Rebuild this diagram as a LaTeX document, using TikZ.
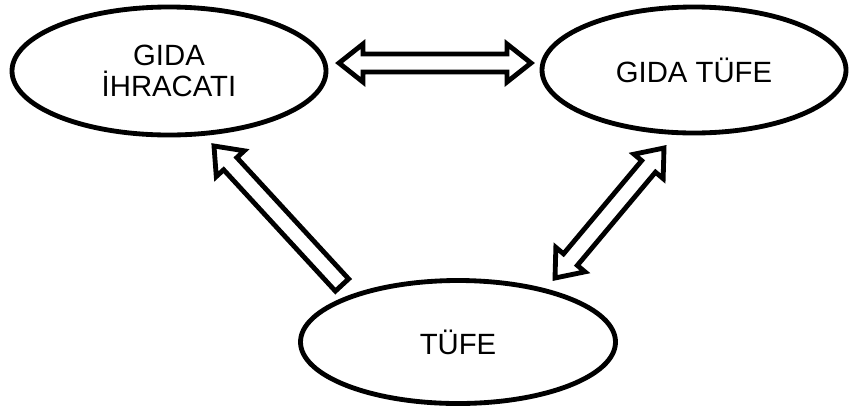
\documentclass[tikz,border=0pt]{standalone}
\usepackage{fontspec}
\setmainfont{Liberation Sans}
\usepackage{tikz}
\usetikzlibrary{shapes.geometric}
\usetikzlibrary{calc}
\tikzset{
  box/.style={draw, ellipse, line width=1.45mm, inner sep=0pt, align=center,
    font=\fontsize{25}{26}\selectfont},
  fat/.style={draw, line width=1.45mm, fill=white, line join=miter}
}
\newcommand\shaftw{0.27cm}
\newcommand\headw{0.57cm}
\newcommand\headl{0.72cm}

% block arrow, one head at #2
\newcommand\onearrow[2]{%
  \coordinate (hb) at ($(#2)!\headl!(#1)$);
  \draw[fat] ($(#1)!\shaftw!90:(#2)$) -- ($(hb)!\shaftw!90:(#2)$)
    -- ($(hb)!\headw!90:(#2)$) -- (#2) -- ($(hb)!\headw!-90:(#2)$)
    -- ($(hb)!\shaftw!-90:(#2)$) -- ($(#1)!\shaftw!-90:(#2)$) -- cycle;
}
% block arrow, heads at both ends
\newcommand\twoarrow[2]{%
  \coordinate (ha) at ($(#1)!\headl!(#2)$);
  \coordinate (hb) at ($(#2)!\headl!(#1)$);
  \draw[fat] (#1) -- ($(ha)!\headw!90:(#2)$) -- ($(ha)!\shaftw!90:(#2)$)
    -- ($(hb)!\shaftw!90:(#2)$) -- ($(hb)!\headw!90:(#2)$) -- (#2)
    -- ($(hb)!\headw!-90:(#2)$) -- ($(hb)!\shaftw!-90:(#2)$)
    -- ($(ha)!\shaftw!-90:(#2)$) -- ($(ha)!\headw!-90:(#2)$) -- cycle;
}

\begin{document}
\begin{tikzpicture}[x=0.03cm, y=-0.03cm]
  \useasboundingbox (0,0) rectangle (850,410);

  \node[box, minimum width=9.42cm, minimum height=3.84cm] at (169, 71) (exp) {GIDA\\İHRACATI};
  \node[box, minimum width=9.12cm, minimum height=3.78cm] at (694, 70) (food) {GIDA TÜFE};
  \node[box, minimum width=9.45cm, minimum height=3.69cm] at (458, 342) (cpi) {TÜFE};

  % arrow ends, between the ellipses
  \coordinate (exp-r) at (339, 63);
  \coordinate (food-l) at (531, 63);
  \coordinate (exp-b) at (214, 146);
  \coordinate (cpi-l) at (342, 285);
  \coordinate (food-b) at (664, 148);
  \coordinate (cpi-r) at (555, 278);

  \twoarrow{exp-r}{food-l}
  \onearrow{cpi-l}{exp-b}
  \twoarrow{cpi-r}{food-b}
\end{tikzpicture}
\end{document}
